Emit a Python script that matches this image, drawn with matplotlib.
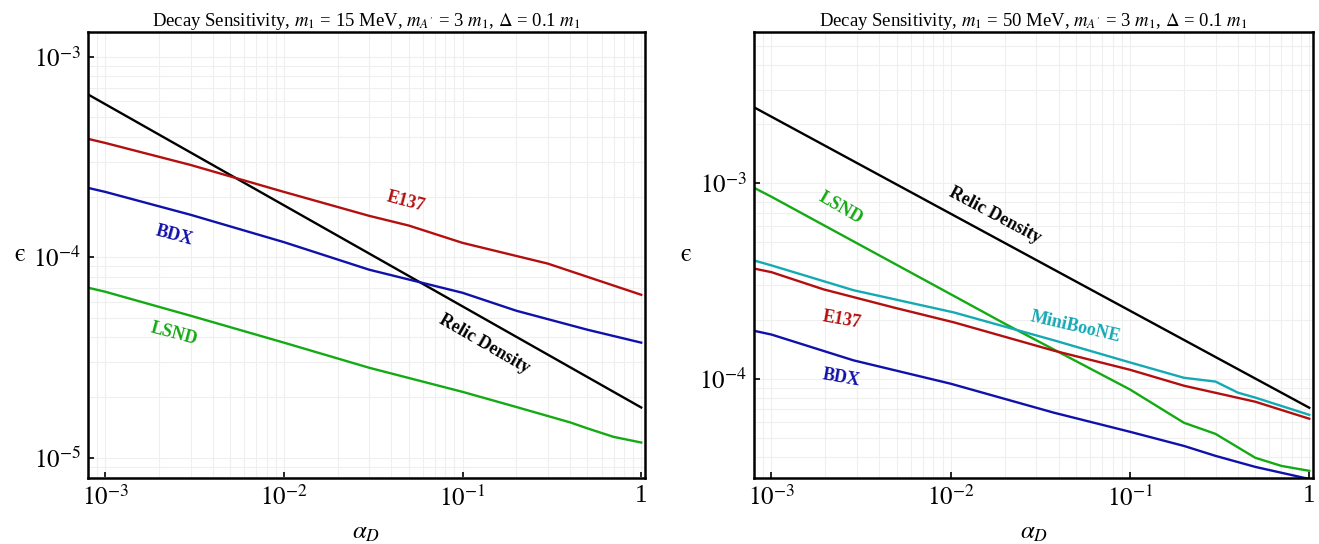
import numpy as np
import matplotlib
matplotlib.use("Agg")
import matplotlib.pyplot as plt
from matplotlib.ticker import FixedLocator, LogLocator, NullFormatter

plt.rcParams["font.family"] = "Liberation Serif"
plt.rcParams["mathtext.fontset"] = "stix"

# ---- panel 1: m1 = 15 MeV ----
a_relic_15 = [8e-4, 1.0]
eps_relic_15 = [6.5e-4, 1.78e-5]

a_e137_15 = [8e-4, 1e-3, 3e-3, 1e-2, 3e-2, 5e-2, 0.1, 0.3, 1.0]
eps_e137_15 = [3.90e-4, 3.72e-4, 2.89e-4, 2.12e-4, 1.61e-4, 1.44e-4, 1.18e-4, 9.3e-5, 6.5e-5]

a_bdx_15 = [8e-4, 1e-3, 3e-3, 1e-2, 3e-2, 0.1, 0.2, 0.5, 1.0]
eps_bdx_15 = [2.22e-4, 2.12e-4, 1.63e-4, 1.19e-4, 8.67e-5, 6.65e-5, 5.41e-5, 4.35e-5, 3.75e-5]

a_lsnd_15 = [8e-4, 1e-3, 3e-3, 1e-2, 3e-2, 0.1, 0.2, 0.4, 0.5, 0.7, 1.0]
eps_lsnd_15 = [7.05e-5, 6.73e-5, 5.11e-5, 3.75e-5, 2.81e-5, 2.13e-5, 1.79e-5, 1.50e-5, 1.40e-5, 1.27e-5, 1.19e-5]

# ---- panel 2: m1 = 50 MeV ----
a_relic_50 = [7.9e-4, 1.0]
eps_relic_50 = [2.45e-3, 7.1e-5]

a_lsnd_50 = [7.9e-4, 1e-3, 1e-2, 2e-2, 0.1, 0.2, 0.3, 0.5, 0.7, 1.0]
eps_lsnd_50 = [9.5e-4, 8.5e-4, 2.70e-4, 1.91e-4, 8.8e-5, 5.95e-5, 5.22e-5, 3.94e-5, 3.58e-5, 3.38e-5]

a_mb_50 = [7.9e-4, 1e-3, 2.87e-3, 1.04e-2, 3.76e-2, 0.1, 0.2, 0.3, 0.4, 0.5, 1.0]
eps_mb_50 = [4.03e-4, 3.79e-4, 2.83e-4, 2.18e-4, 1.57e-4, 1.21e-4, 1.01e-4, 9.66e-5, 8.48e-5, 8.0e-5, 6.53e-5]

a_e137_50 = [7.9e-4, 1e-3, 1.95e-3, 4.8e-3, 1.04e-2, 3.76e-2, 0.1, 0.2, 0.5, 1.0]
eps_e137_50 = [3.66e-4, 3.5e-4, 2.86e-4, 2.31e-4, 1.94e-4, 1.39e-4, 1.11e-4, 9.2e-5, 7.62e-5, 6.24e-5]

a_bdx_50 = [7.9e-4, 1e-3, 2.87e-3, 1e-2, 3.76e-2, 0.1, 0.2, 0.3, 0.5, 1.0]
eps_bdx_50 = [1.76e-4, 1.68e-4, 1.24e-4, 9.42e-5, 6.7e-5, 5.35e-5, 4.53e-5, 4.03e-5, 3.54e-5, 3.07e-5]

x_ticks = [1e-3, 1e-2, 1e-1, 1]
x_ticklabels = [r"$10^{-3}$", r"$10^{-2}$", r"$10^{-1}$", "1"]

red = "#b30f0f"
blue = "#1010aa"
green = "#14aa14"
cyan = "#14aab4"
lw = 1.7

fig = plt.figure(figsize=(13.19, 5.44), dpi=100)
ax1 = fig.add_axes([0.0667, 0.121, 0.4223, 0.820])
ax2 = fig.add_axes([0.5717, 0.121, 0.4238, 0.820])


def style(ax, ylim, yticks, ylabels, title):
    ax.set_xscale("log")
    ax.set_yscale("log")
    ax.set_xlim(8e-4, 1.05)
    ax.set_ylim(*ylim)
    ax.xaxis.set_major_locator(FixedLocator(x_ticks))
    ax.set_xticklabels(x_ticklabels)
    ax.yaxis.set_major_locator(FixedLocator(yticks))
    ax.set_yticklabels(ylabels)
    ax.xaxis.set_minor_locator(LogLocator(base=10, subs=np.arange(2, 10)))
    ax.yaxis.set_minor_locator(LogLocator(base=10, subs=np.arange(2, 10)))
    ax.xaxis.set_minor_formatter(NullFormatter())
    ax.yaxis.set_minor_formatter(NullFormatter())
    ax.grid(True, which="both", color="#efefef", lw=0.8)
    ax.set_axisbelow(True)
    ax.tick_params(which="major", direction="in", length=4, width=1.2, labelsize=18,
                   top=False, right=False, pad=5)
    ax.tick_params(which="minor", length=0)
    for s in ax.spines.values():
        s.set_linewidth(1.8)
    ax.set_title(title, fontsize=13.5, pad=2)
    ax.set_xlabel(r"$\alpha_D$", fontsize=18, labelpad=8)
    ax.set_ylabel("ϵ", fontsize=18, family="STIXGeneral", rotation=0, labelpad=10, va="center")


style(ax1, (7.9e-6, 1.33e-3), [1e-5, 1e-4, 1e-3], [r"$10^{-5}$", r"$10^{-4}$", r"$10^{-3}$"],
      r"Decay Sensitivity, $m_1$ = 15 MeV, $m_{A'}$ = 3 $m_1$, $\Delta$ = 0.1 $m_1$")
style(ax2, (3.1e-5, 5.9e-3), [1e-4, 1e-3], [r"$10^{-4}$", r"$10^{-3}$"],
      r"Decay Sensitivity, $m_1$ = 50 MeV, $m_{A'}$ = 3 $m_1$, $\Delta$ = 0.1 $m_1$")

ax1.plot(a_relic_15, eps_relic_15, color="black", lw=lw)
ax1.plot(a_e137_15, eps_e137_15, color=red, lw=lw)
ax1.plot(a_bdx_15, eps_bdx_15, color=blue, lw=lw)
ax1.plot(a_lsnd_15, eps_lsnd_15, color=green, lw=lw)

lab = dict(fontsize=13, fontweight="bold", ha="center", va="center")
ax1.text(0.57, 0.62, "E137", color=red, rotation=-15, transform=ax1.transAxes, **lab)
ax1.text(0.155, 0.543, "BDX", color=blue, rotation=-15, transform=ax1.transAxes, **lab)
ax1.text(0.155, 0.323, "LSND", color=green, rotation=-15, transform=ax1.transAxes, **lab)
ax1.text(0.712, 0.30, "Relic Density", color="black", rotation=-30, transform=ax1.transAxes, **lab)

ax2.plot(a_relic_50, eps_relic_50, color="black", lw=lw)
ax2.plot(a_lsnd_50, eps_lsnd_50, color=green, lw=lw)
ax2.plot(a_mb_50, eps_mb_50, color=cyan, lw=lw)
ax2.plot(a_e137_50, eps_e137_50, color=red, lw=lw)
ax2.plot(a_bdx_50, eps_bdx_50, color=blue, lw=lw)

ax2.text(0.155, 0.605, "LSND", color=green, rotation=-30, transform=ax2.transAxes, **lab)
ax2.text(0.43, 0.59, "Relic Density", color="black", rotation=-28, transform=ax2.transAxes, **lab)
ax2.text(0.575, 0.338, "MiniBooNE", color=cyan, rotation=-13, transform=ax2.transAxes, **lab)
ax2.text(0.157, 0.354, "E137", color=red, rotation=-10, transform=ax2.transAxes, **lab)
ax2.text(0.155, 0.224, "BDX", color=blue, rotation=-10, transform=ax2.transAxes, **lab)

fig.savefig("out.png", dpi=100)
